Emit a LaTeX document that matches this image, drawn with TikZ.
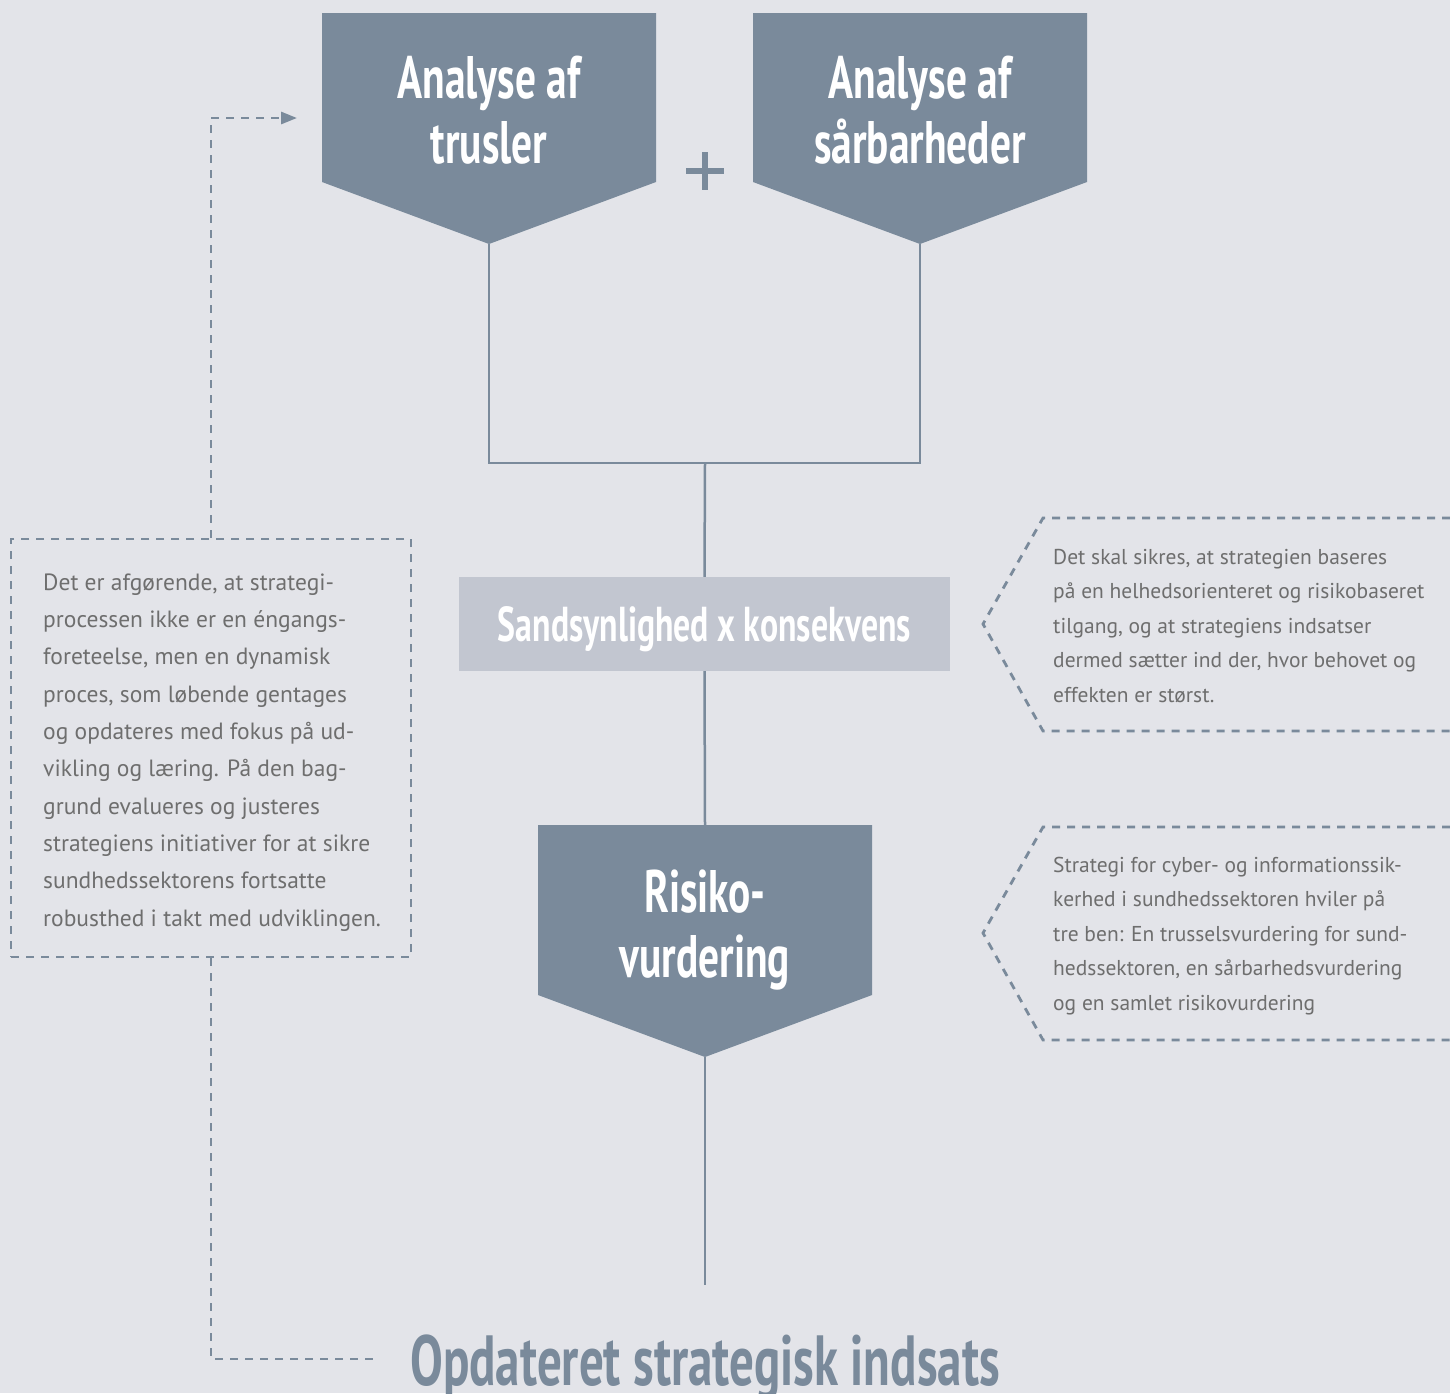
\documentclass[tikz,border=0pt]{standalone}
\usepackage{fontspec}
\setmainfont{PT Sans}
\newfontfamily\headfont[FakeStretch=0.69]{PT Sans}
\usetikzlibrary{arrows.meta}
\definecolor{bg}{HTML}{E3E4E9}
\definecolor{slate}{HTML}{7A8A9B}
\definecolor{pale}{HTML}{C2C6D0}
\definecolor{txt}{HTML}{6E6E6E}
\tikzset{
  boxfill/.style={fill=slate},
  headtxt/.style={text=white, align=center, inner sep=0pt, anchor=base,
    font=\headfont\bfseries\fontsize{60}{65}\selectfont},
  conn/.style={draw=slate, line width=2.5pt},
  dashline/.style={draw=slate, line width=2.8pt, dash pattern=on 8pt off 7pt},
  bodytxt/.style={text=txt, align=left, inner sep=0pt, anchor=base west},
}
\begin{document}
\begin{tikzpicture}[x=1pt,y=-1pt]
\useasboundingbox[fill=bg] (0,0) rectangle (1450,1393);

% top boxes
\path[boxfill] (322,13) -- (656,13) -- (656,182) -- (489,244) -- (322,182) -- cycle;
\node[headtxt] (trusler) at (489,163) {Analyse af\\trusler};
\coordinate (tip1) at (489,244);

\path[boxfill] (753,13) -- (1087,13) -- (1087,182) -- (920,244) -- (753,182) -- cycle;
\node[headtxt] (saarbar) at (920,163) {Analyse af\\sårbarheder};
\coordinate (tip2) at (920,244);

% plus
\draw[slate, line width=5.5pt] (686,171) -- (724,171) (705,152) -- (705,190);

% joins
\coordinate (join) at (705,463);
\draw[conn] (tip1) |- (join) -| (tip2);

\node[fill=pale, minimum width=491pt, minimum height=94pt, inner sep=0pt, text depth=0pt,
      text=white, font=\headfont\bfseries\fontsize{49}{60}\selectfont] (sk) at (704.5,624) {Sandsynlighed x konsekvens};
\draw[conn] (join) -- (sk.north);

% risiko
\path[boxfill] (538,825) -- (872,825) -- (872,995) -- (705,1057) -- (538,995) -- cycle;
\node[headtxt] (risiko) at (705,977) {Risiko-\\vurdering};
\coordinate (rtop) at (705,825);
\coordinate (rtip) at (705,1057);
\coordinate (rend) at (705,1285);
\draw[conn] (sk.south) -- (rtop);
\draw[conn] (rtip) -- (rend);

\node[text=slate, inner sep=0pt, anchor=base, font=\headfont\bfseries\fontsize{71}{80}\selectfont] (opd) at (705,1385) {Opdateret strategisk indsats};

% left dashed box
\node[dashline, minimum width=400pt, minimum height=418pt, inner sep=0pt] (lbox) at (211,748) {};
\node[bodytxt, font=\fontsize{23.5}{37.3}\selectfont] (ltxt) at (43,926) {Det er afgørende, at strategi-\\processen ikke er en éngangs-\\foreteelse, men en dynamisk\\proces, som løbende gentages\\og opdateres med fokus på ud-\\vikling og læring. På den bag-\\grund evalueres og justeres\\strategiens initiativer for at sikre\\sundhedssektorens fortsatte\\robusthed i takt med udviklingen.};
\coordinate (arrend) at (297,118);
\coordinate (botend) at (380,1359);
\draw[dashline, -{Triangle[length=16pt,width=12pt]}] (lbox.north) |- (arrend);
\draw[dashline] (lbox.south) |- (botend);

% right callouts
\draw[dashline] (1450,518) -- (1043,518) -- (983,624) -- (1043,731) -- (1450,731);
\node[bodytxt, font=\fontsize{21.5}{34.5}\selectfont] (r1) at (1053,702) {Det skal sikres, at strategien baseres\\på en helhedsorienteret og risikobaseret\\tilgang, og at strategiens indsatser\\dermed sætter ind der, hvor behovet og\\effekten er størst.};

\draw[dashline] (1450,827) -- (1043,827) -- (983,933) -- (1043,1040) -- (1450,1040);
\node[bodytxt, font=\fontsize{21.5}{34.5}\selectfont] (r2) at (1053,1010) {Strategi for cyber- og informationssik-\\kerhed i sundhedssektoren hviler på\\tre ben: En trusselsvurdering for sund-\\hedssektoren, en sårbarhedsvurdering\\og en samlet risikovurdering};
\end{tikzpicture}
\end{document}
